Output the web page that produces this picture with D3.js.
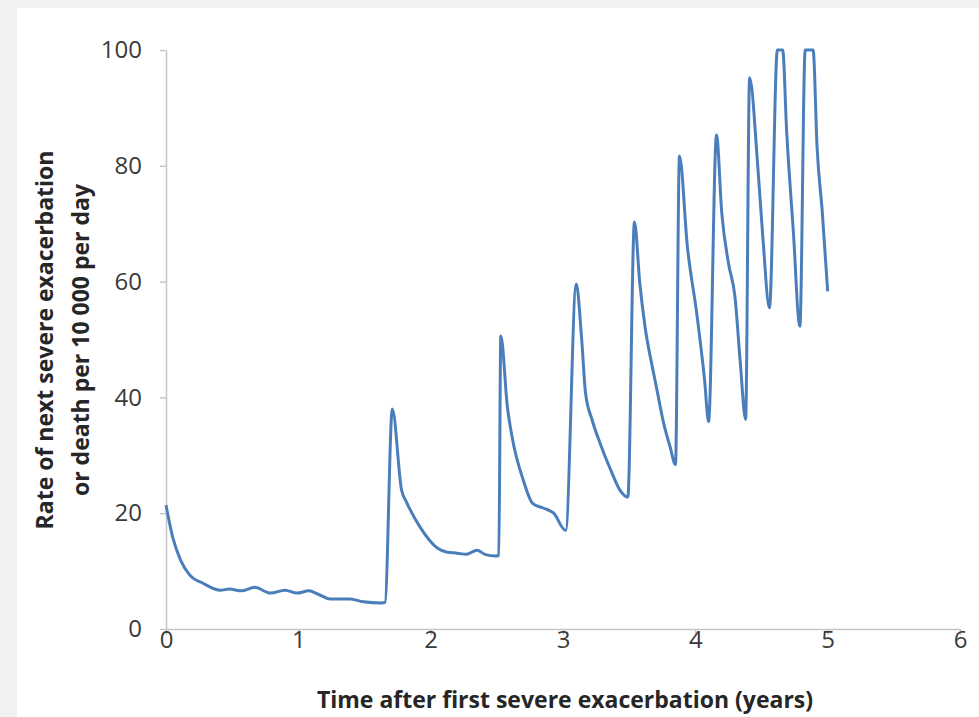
<!DOCTYPE html>
<html>
<head>
<meta charset="utf-8">
<script src="https://cdn.jsdelivr.net/npm/d3@7"></script>
<style>
  html, body { margin: 0; padding: 0; background: #f2f2f2; }
  svg { display: block; }
  .axis path, .axis line { stroke: #c6c6c6; stroke-width: 1.5; }
  .axis text { font-family: "Open Sans", sans-serif; font-size: 24px; fill: #3a3a3a; }
  .title { font-family: "Open Sans", sans-serif; font-weight: bold; font-size: 23px; fill: #262626; }
</style>
</head>
<body>
<div id="chart"></div>
<script>
// years after first severe exacerbation
const years = [
  0.00, 0.05, 0.11, 0.18, 0.28, 0.41, 0.48, 0.57, 0.67, 0.79, 0.90, 0.99,
  1.08, 1.15, 1.24, 1.39, 1.49, 1.63, 1.655, 1.71, 1.78, 1.82, 1.92, 2.05,
  2.12, 2.20, 2.27, 2.35, 2.41, 2.49, 2.515, 2.53, 2.58, 2.62, 2.70, 2.77,
  2.85, 2.93, 3.02, 3.10, 3.14, 3.17, 3.22, 3.28, 3.36, 3.43, 3.49, 3.54,
  3.58, 3.62, 3.68, 3.71, 3.76, 3.81, 3.85, 3.88, 3.94, 4.01, 4.07, 4.10,
  4.16, 4.20, 4.25, 4.30, 4.34, 4.38, 4.41, 4.47, 4.51, 4.56, 4.62, 4.66,
  4.69, 4.74, 4.79, 4.83, 4.89, 4.92, 4.96, 5.00
];
// rate per 10 000 per day
const rate = [
  21.4, 15.9, 11.9, 9.3, 7.9, 6.7, 6.9, 6.6, 7.2, 6.2, 6.7, 6.2,
  6.6, 6.0, 5.2, 5.2, 4.7, 4.5, 4.6, 38.0, 24.0, 21.8, 17.6, 14.0,
  13.3, 13.1, 12.9, 13.6, 12.9, 12.6, 12.7, 50.6, 38.3, 32.6, 25.7, 21.7,
  20.9, 20.0, 17.0, 59.6, 50.4, 40.8, 36.1, 32.1, 27.5, 24.0, 22.8, 70.3,
  59.8, 52.2, 44.7, 41.3, 35.6, 31.4, 28.4, 81.7, 66.0, 54.6, 43.0, 35.8,
  85.3, 71.8, 63.2, 57.3, 45.9, 36.2, 95.2, 80.5, 67.7, 55.5, 100, 100,
  86.0, 68.9, 52.3, 100, 100, 83.2, 71.8, 58.3
];
const xTicks = [0, 1, 2, 3, 4, 5, 6];
const yTicks = [0, 20, 40, 60, 80, 100];

const W = 979, H = 717;
const margin = { top: 50, left: 166, right: 19, bottom: 88 };
const width = W - margin.left - margin.right;
const height = H - margin.top - margin.bottom;

const svg = d3.select("#chart").append("svg")
  .attr("width", W)
  .attr("height", H);

// white panel
svg.append("rect")
  .attr("x", 17).attr("y", 8)
  .attr("width", W - 17).attr("height", H - 8)
  .attr("fill", "#ffffff");

const g = svg.append("g")
  .attr("transform", "translate(" + margin.left + "," + margin.top + ")");

const x = d3.scaleLinear().domain([0, 6]).range([0, width]);
const y = d3.scaleLinear().domain([0, 100]).range([height, 0]);

g.append("g")
  .attr("class", "axis")
  .attr("transform", "translate(0," + height + ")")
  .call(d3.axisBottom(x).tickValues(xTicks).tickFormat(d3.format("d"))
    .tickSizeInner(6).tickSizeOuter(0))
  .call(s => s.selectAll("text").attr("y", 2).attr("dy", "0.71em"));

g.append("g")
  .attr("class", "axis")
  .call(d3.axisLeft(y).tickValues(yTicks).tickSizeInner(6).tickSizeOuter(0).tickPadding(18));

g.append("clipPath").attr("id", "plot")
  .append("rect").attr("x", -5).attr("y", -3).attr("width", width + 10).attr("height", height + 6);

const line = d3.line()
  .x((d, i) => x(years[i]))
  .y((d, i) => y(rate[i]))
  .curve(d3.curveMonotoneX);

g.append("path")
  .datum(rate)
  .attr("clip-path", "url(#plot)")
  .attr("fill", "none")
  .attr("stroke", "#4a7ebb")
  .attr("stroke-width", 3)
  .attr("stroke-linejoin", "round")
  .attr("d", line);

// axis titles
svg.append("text")
  .attr("class", "title")
  .attr("x", 565).attr("y", 708)
  .attr("text-anchor", "middle")
  .text("Time after first severe exacerbation (years)");

const yt = svg.append("text")
  .attr("class", "title")
  .attr("transform", "translate(53,340) rotate(-90)")
  .attr("text-anchor", "middle");
yt.append("tspan").attr("x", 0).attr("y", 0).text("Rate of next severe exacerbation");
yt.append("tspan").attr("x", 0).attr("y", 36).text("or death per 10 000 per day");
</script>
</body>
</html>
